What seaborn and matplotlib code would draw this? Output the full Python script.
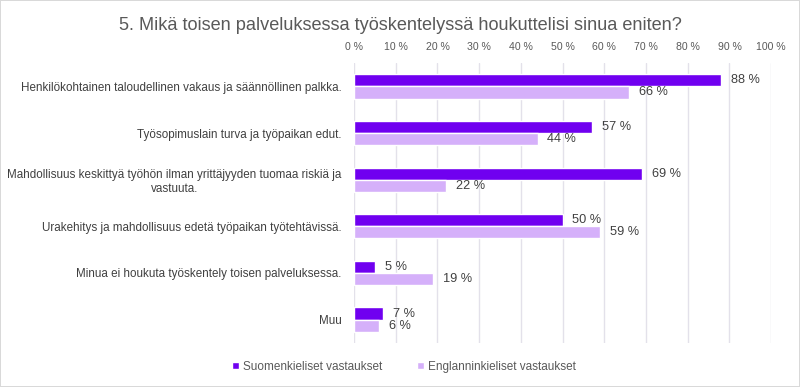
import numpy as np
import pandas as pd
import matplotlib
matplotlib.use("Agg")
import matplotlib.pyplot as plt
import seaborn as sns

categories = [
    "Henkilökohtainen taloudellinen vakaus ja säännöllinen palkka.",
    "Työsopimuslain turva ja työpaikan edut.",
    "Mahdollisuus keskittyä työhön ilman yrittäjyyden tuomaa riskiä ja\nvastuuta.",
    "Urakehitys ja mahdollisuus edetä työpaikan työtehtävissä.",
    "Minua ei houkuta työskentely toisen palveluksessa.",
    "Muu",
]
finnish = [88, 57, 69, 50, 5, 7]
english = [66, 44, 22, 59, 19, 6]
series_names = ["Suomenkieliset vastaukset", "Englanninkieliset vastaukset"]
ticks = list(range(0, 101, 10))

df = pd.DataFrame({
    "cat": categories * 2,
    "value": finnish + english,
    "group": [series_names[0]] * len(categories) + [series_names[1]] * len(categories),
})

sns.set_theme(style="white")
plt.rcParams["font.family"] = ["Liberation Sans", "DejaVu Sans"]

fig = plt.figure(figsize=(8, 3.87), dpi=100)
fig.patch.set_edgecolor("#d9d9d9")
fig.patch.set_linewidth(1.2)
ax = fig.add_axes([0.4425, 0.114, 0.5215, 0.723])

sns.barplot(data=df, y="cat", x="value", hue="group", orient="h", width=0.52,
            palette=["#7000F0", "#D5B0FA"], saturation=1, ax=ax, legend=True)

for c in ax.containers:
    ax.bar_label(c, labels=[f"{int(v)} %" for v in c.datavalues], padding=7,
                 fontsize=9.2, color="#404040")

ax.set_xlim(0, 100)
ax.set_xticks(ticks)
ax.set_xticklabels([f"{t} %" for t in ticks], fontsize=7.6, color="#595959")
ax.xaxis.tick_top()
ax.tick_params(axis="x", length=0, pad=8)
ax.tick_params(axis="y", length=0, pad=9)
for lbl in ax.get_yticklabels():
    lbl.set_fontsize(8.4)
    lbl.set_color("#404040")
    lbl.set_multialignment("center")
ax.grid(axis="x", color="#e3e1ea", linewidth=1)
ax.set_axisbelow(True)
for s in ax.spines.values():
    s.set_visible(False)
ax.set_xlabel("")
ax.set_ylabel("")

handles = ax.get_legend().legend_handles
ax.get_legend().remove()
fig.legend(handles=handles, labels=series_names, loc="center", bbox_to_anchor=(0.505, 0.052),
           ncol=2, frameon=False, fontsize=8.5, handlelength=0.6, handleheight=0.6,
           handletextpad=0.3, columnspacing=3, labelcolor="#595959")

fig.suptitle("5. Mikä toisen palveluksessa työskentelyssä houkuttelisi sinua eniten?",
             x=0.5, y=0.955, fontsize=13.1, color="#595959")

fig.savefig("out.png", dpi=100)
